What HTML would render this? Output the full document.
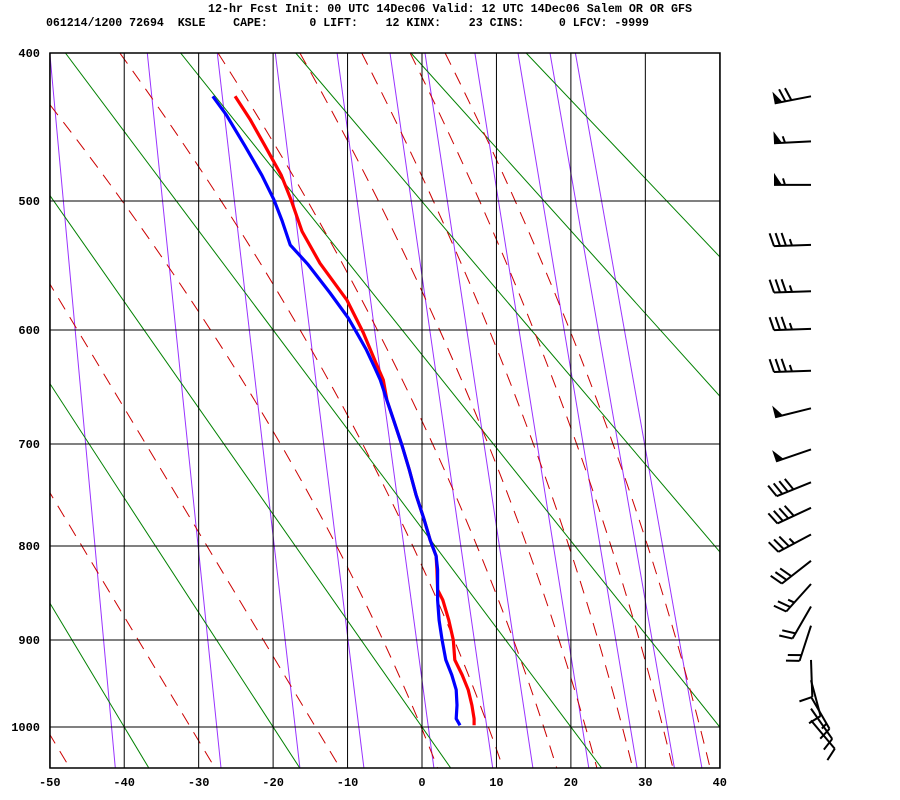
<!DOCTYPE html>
<html><head><meta charset="utf-8">
<style>
html,body{margin:0;padding:0;background:#fff;}
svg{display:block;font-family:"Liberation Mono",monospace;font-weight:bold;}
</style></head>
<body>
<svg id="chart" width="900" height="800" viewBox="0 0 900 800">
<text x="208" y="12" font-size="11.5" textLength="484" lengthAdjust="spacingAndGlyphs">12-hr Fcst Init: 00 UTC 14Dec06 Valid: 12 UTC 14Dec06 Salem OR OR GFS</text>
<text x="46" y="26" font-size="11.5" textLength="603" lengthAdjust="spacingAndGlyphs" xml:space="preserve">061214/1200 72694  KSLE    CAPE:      0 LIFT:    12 KINX:    23 CINS:     0 LFCV: -9999</text>
<g id="guides"></g>
<g id="grid"></g>
<g id="profiles"></g>
<g id="barbs"></g>
<g id="labels"></g>
</svg>
<script>
// ---- data ----
const pressureTicks = [400,500,600,700,800,900,1000];
const tempTicks = [-50,-40,-30,-20,-10,0,10,20,30,40];
const tempPressure = [427,442,460,481,499,522,546,575,602,627,642,660,678,701,724,748,773,794,810,824,845,856,878,900,922,939,956,974,990,998];
const tempValues   = [-25.1,-23.1,-21.1,-18.9,-17.6,-16.1,-13.7,-10.1,-7.9,-6.2,-5.2,-4.7,-3.8,-2.7,-1.7,-0.8,0.3,1.1,1.9,2.0,2.1,2.8,3.6,4.2,4.4,5.4,6.2,6.7,7.0,7.0];
const dewPressure  = [427,439,460,481,499,514,532,547,569,590,604,616,632,642,660,678,701,724,748,773,794,810,824,845,856,878,900,922,939,956,974,990,998];
const dewValues    = [-28.1,-26.3,-23.8,-21.5,-19.9,-18.8,-17.7,-15.3,-12.4,-9.9,-8.6,-7.5,-6.3,-5.6,-4.7,-3.8,-2.7,-1.7,-0.8,0.3,1.1,1.9,2.1,2.1,2.1,2.3,2.7,3.2,4.0,4.6,4.7,4.6,5.1];
const windPressure = [427,457,488,532,568,599,634,667,705,736,761,788,815,839,863,884,922,945,964,978,992];
const windDir      = [259,267,270,268,268,268,268,256,251,248,245,242,232,222,210,198,178,165,150,145,140];
const windSpeed    = [70,55,55,35,35,35,35,50,50,40,40,35,30,25,20,20,10,10,15,10,10];
// guide lines
const isotherms = [-80,-60,-40,-20,0,20,40,60,80,100];
const purpleAt1050 = [-41.2,-27.0,-16.4,-7.8,1.6,9.5,14.9,22.4,28.9,33.9,37.6];
const purpleAt400  = [-50.0,-36.9,-27.5,-19.7,-11.4,-4.3,0.4,7.1,12.9,17.2,20.6];
const redAt1050 = [-47.3,-27.8,-11.0,2.1,10.9,18.1,23.5,28.3,33.7,38.7];
const redAt400  = [-104.9,-85.4,-68.6,-55.5,-40.6,-27.4,-16.4,-8.1,-1.6,3.1];

// ---- scales ----
const X0=50, X1=720, YT=53, YB=768;
const pLev=[400,500,600,700,800,900,1000,1050];
const pY=[53,201,330,444,546,640,727,768];
function yOf(p){
  let i=0; while(i<pLev.length-2 && p>pLev[i+1]) i++;
  const f=Math.log(p/pLev[i])/Math.log(pLev[i+1]/pLev[i]);
  return pY[i]+f*(pY[i+1]-pY[i]);
}
function xOf(t){ return 422+(t)*(670/90); }
const NS="http://www.w3.org/2000/svg";
function mk(tag,attrs,parent){const e=document.createElementNS(NS,tag);for(const k in attrs)e.setAttribute(k,attrs[k]);parent.appendChild(e);return e;}

const defs=mk('defs',{},document.getElementById('chart'));
const cp=mk('clipPath',{id:'plotclip'},defs);
mk('rect',{x:X0,y:YT,width:X1-X0,height:YB-YT},cp);

const guides=document.getElementById('guides');
guides.setAttribute('clip-path','url(#plotclip)');
function guideCurve(tTop,tBot,bend,color,dash,name){
  const xt=xOf(tTop), xb=xOf(tBot), h=YB-YT;
  const s=(xb-xt)/h;
  const cx=xt+(1+bend)*s*h/2, cy=(YT+YB)/2;
  const p=mk('path',{d:`M${xt.toFixed(1)},${YT} Q${cx.toFixed(1)},${cy} ${xb.toFixed(1)},${YB}`,fill:'none',stroke:color,'stroke-width':1},guides);
  if(dash) p.setAttribute('stroke-dasharray',dash);
  
  
}
purpleAt1050.forEach((v,i)=>guideCurve(purpleAt400[i],v,0,'#9933ff',null,'dry-adiabat-line'));
isotherms.forEach(T=>{
  const slope=0.7+0.0025*T;
  const x1000=xOf(T), y1000=yOf(1000);
  const l=mk('line',{x1:x1000-slope*(y1000-YT),y1:YT,x2:x1000+slope*(YB-y1000),y2:YB,stroke:'#008000','stroke-width':1},guides);
  
  
});
redAt1050.forEach((v,i)=>guideCurve(redAt400[i],v,redAt400[i]<-60?0:0.35,'#cc0000','13,9','moist-adiabat-line'));

// grid
const grid=document.getElementById('grid');
tempTicks.forEach(t=>{
  const x=xOf(t);
  const l=mk('line',{x1:x,y1:YT,x2:x,y2:YB,stroke:'#000','stroke-width':1},grid);
  
  
});
pressureTicks.forEach(p=>{
  const y=yOf(p);
  const l=mk('line',{x1:X0,y1:y,x2:X1,y2:y,stroke:'#000','stroke-width':1},grid);
  
  
});
const frame=mk('rect',{x:X0,y:YT,width:X1-X0,height:YB-YT,fill:'none',stroke:'#000','stroke-width':1.5},grid);



// labels
const labels=document.getElementById('labels');
pressureTicks.forEach(p=>{
  const t=mk('text',{x:40,y:yOf(p)+4,'font-size':12,'text-anchor':'end'},labels);
  t.textContent=String(p);
  
  
});
tempTicks.forEach(v=>{
  const t=mk('text',{x:xOf(v),y:786,'font-size':12,'text-anchor':'middle'},labels);
  t.textContent=String(v);
  
  
});

// profiles
const prof=document.getElementById('profiles');
function profile(ps,ts,color,name){
  const d=ps.map((p,i)=>(i?'L':'M')+xOf(ts[i]).toFixed(1)+','+yOf(p).toFixed(1)).join(' ');
  const path=mk('path',{d:d,fill:'none',stroke:color,'stroke-width':3.2,'stroke-linejoin':'round'},prof);
  
  
}
profile(tempPressure,tempValues,'#ff0000','temperature-profile');
profile(dewPressure,dewValues,'#0000ff','dewpoint-profile');

// wind barbs
const barbs=document.getElementById('barbs');
windPressure.forEach((p,i)=>{
  const g=mk('g',{},barbs);
  
  
  const bx=811, by=yOf(p);
  const r=windDir[i]*Math.PI/180;
  const sx=Math.sin(r), sy=-Math.cos(r);
  const px=-sy, py=sx;
  const L=37;
  const ex=bx+sx*L, ey=by+sy*L;
  mk('line',{x1:bx,y1:by,x2:ex,y2:ey,stroke:'#000','stroke-width':2},g);
  let sp=windSpeed[i], pos=0;
  const at=k=>[ex-sx*k, ey-sy*k];
  while(sp>=50){
    const [qx,qy]=at(pos), [rx,ry]=at(pos+8);
    mk('polygon',{points:`${qx},${qy} ${qx+px*12},${qy+py*12} ${rx},${ry}`,fill:'#000'},g);
    pos+=11; sp-=50;
  }
  while(sp>=10){
    const [qx,qy]=at(pos);
    mk('line',{x1:qx,y1:qy,x2:qx+px*13+sx*4,y2:qy+py*13+sy*4,stroke:'#000','stroke-width':2},g);
    pos+=6; sp-=10;
  }
  if(sp>=5){
    if(pos===0) pos=6;
    const [qx,qy]=at(pos);
    mk('line',{x1:qx,y1:qy,x2:qx+px*6.5+sx*2,y2:qy+py*6.5+sy*2,stroke:'#000','stroke-width':2},g);
  }
});
</script>
</body></html>
